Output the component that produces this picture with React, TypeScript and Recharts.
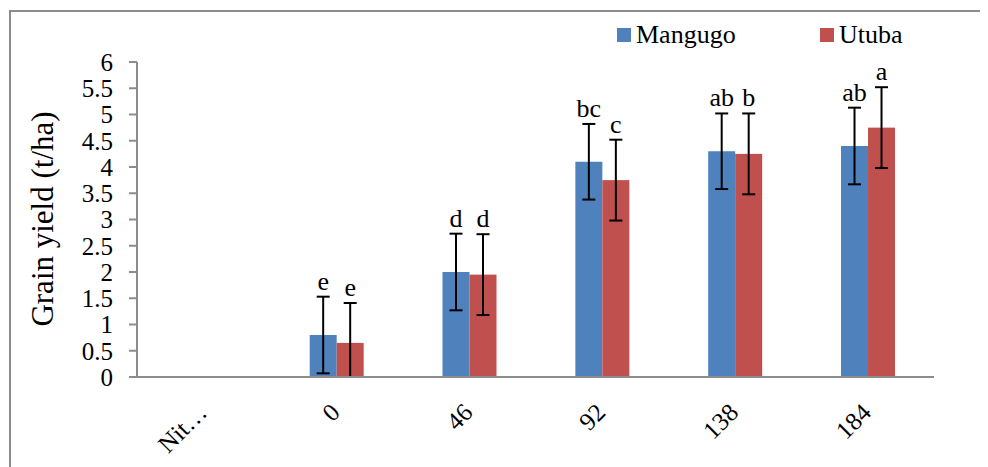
import React from 'react';
import { BarChart, Bar, XAxis, YAxis } from 'recharts';

const categories = ['Nit…', '0', '46', '92', '138', '184'];
const mangugo = [null, 0.8, 2.0, 4.1, 4.3, 4.4];
const utuba = [null, 0.65, 1.95, 3.75, 4.25, 4.75];
const mangugoErr = [null, 0.73, 0.73, 0.72, 0.72, 0.73];
const utubaErr = [null, 0.76, 0.77, 0.77, 0.77, 0.77];
const mangugoLetters = ['', 'e', 'd', 'bc', 'ab', 'ab'];
const utubaLetters = ['', 'e', 'd', 'c', 'b', 'a'];
const yTicks = [0, 0.5, 1, 1.5, 2, 2.5, 3, 3.5, 4, 4.5, 5, 5.5, 6];

const BLUE = '#4F81BD';
const RED = '#C0504D';
const AXIS = '#8c8c8c';
const FONT = "'Liberation Serif'";

const data = categories.map((name, i) => ({
  name,
  mangugo: mangugo[i],
  utuba: utuba[i],
  mangugoErr: mangugoErr[i],
  utubaErr: utubaErr[i],
  mangugoLetter: mangugoLetters[i],
  utubaLetter: utubaLetters[i],
}));

// bar rect, its error whisker (cut at the zero line) and the letter above it
const letterBar = (key: string, errKey: string, letterKey: string, color: string) => (props: any) => {
  const { x, y, width, height, payload } = props;
  const v = payload[key];
  if (v == null || !height) return <g />;
  const perUnit = height / v;
  const err = payload[errKey];
  const cx = x + width / 2;
  const base = y + height;
  const top = y - err * perUnit;
  const low = Math.min(base, y + err * perUnit);
  const cap = 6.5;
  return (
    <g>
      <rect x={x} y={y} width={width} height={height} fill={color} />
      <g stroke="#000" strokeWidth={2}>
        <line x1={cx} y1={top} x2={cx} y2={low} />
        <line x1={cx - cap} y1={top} x2={cx + cap} y2={top} />
        {low < base && <line x1={cx - cap} y1={low} x2={cx + cap} y2={low} />}
      </g>
      <text x={cx} y={top - 7} textAnchor="middle" fill="#000" style={{ fontFamily: FONT, fontSize: 26 }}>
        {payload[letterKey]}
      </text>
    </g>
  );
};

const XTick = (props: any) => {
  const { x, y, payload } = props;
  const ax = x + 5;
  const ay = y + 37;
  return (
    <text
      x={ax}
      y={ay}
      transform={`rotate(-45 ${ax} ${ay})`}
      textAnchor="end"
      fill="#000"
      style={{ fontFamily: FONT, fontSize: 25 }}
    >
      {payload.value}
    </text>
  );
};

const YTick = (props: any) => {
  const { x, y, payload } = props;
  return (
    <text x={x} y={y} dy="0.35em" textAnchor="end" fill="#000" style={{ fontFamily: FONT, fontSize: 25 }}>
      {payload.value}
    </text>
  );
};

const YTitle = () => (
  <text
    x={45}
    y={211}
    transform="rotate(-90 45 211)"
    textAnchor="middle"
    fill="#000"
    style={{ fontFamily: FONT, fontSize: 31 }}
  >
    Grain yield (t/ha)
  </text>
);

const legendItems = [
  { label: 'Mangugo', color: BLUE },
  { label: 'Utuba', color: RED },
];

export default function App() {
  return (
    <div style={{ position: 'relative', width: 980, height: 459, fontFamily: FONT }}>
      <div
        style={{
          position: 'absolute',
          left: 1,
          top: 2,
          width: 1000,
          height: 480,
          borderLeft: `2px solid ${AXIS}`,
          borderTop: `2px solid ${AXIS}`,
        }}
      />
      <div style={{ position: 'absolute', left: 0, top: 0 }}>
        <BarChart
          width={980}
          height={459}
          data={data}
          margin={{ top: 54, right: 54, left: 0, bottom: 0 }}
          barCategoryGap="30%"
          barGap={0}
        >
          <XAxis
            dataKey="name"
            height={90}
            interval={0}
            tickLine={false}
            tickSize={0}
            tickMargin={0}
            axisLine={{ stroke: AXIS, strokeWidth: 2 }}
            tick={<XTick />}
          />
          <YAxis
            width={129}
            domain={[0, 6]}
            ticks={yTicks}
            interval={0}
            tickSize={8}
            tickMargin={16}
            axisLine={{ stroke: AXIS, strokeWidth: 2 }}
            tickLine={{ stroke: AXIS, strokeWidth: 2 }}
            tick={<YTick />}
          />
          <Bar
            dataKey="mangugo"
            fill={BLUE}
            isAnimationActive={false}
            shape={letterBar('mangugo', 'mangugoErr', 'mangugoLetter', BLUE)}
          />
          <Bar
            dataKey="utuba"
            fill={RED}
            isAnimationActive={false}
            shape={letterBar('utuba', 'utubaErr', 'utubaLetter', RED)}
          />
          <YTitle />
        </BarChart>
      </div>
      <div style={{ position: 'absolute', left: 609, top: 12, display: 'flex' }}>
        {legendItems.map((it) => (
          <div key={it.label} style={{ width: 203, display: 'flex', alignItems: 'center' }}>
            <span style={{ width: 14, height: 14, background: it.color, marginRight: 5 }} />
            <span style={{ fontSize: 26, lineHeight: '30px', color: '#000', fontFamily: FONT }}>{it.label}</span>
          </div>
        ))}
      </div>
    </div>
  );
}
